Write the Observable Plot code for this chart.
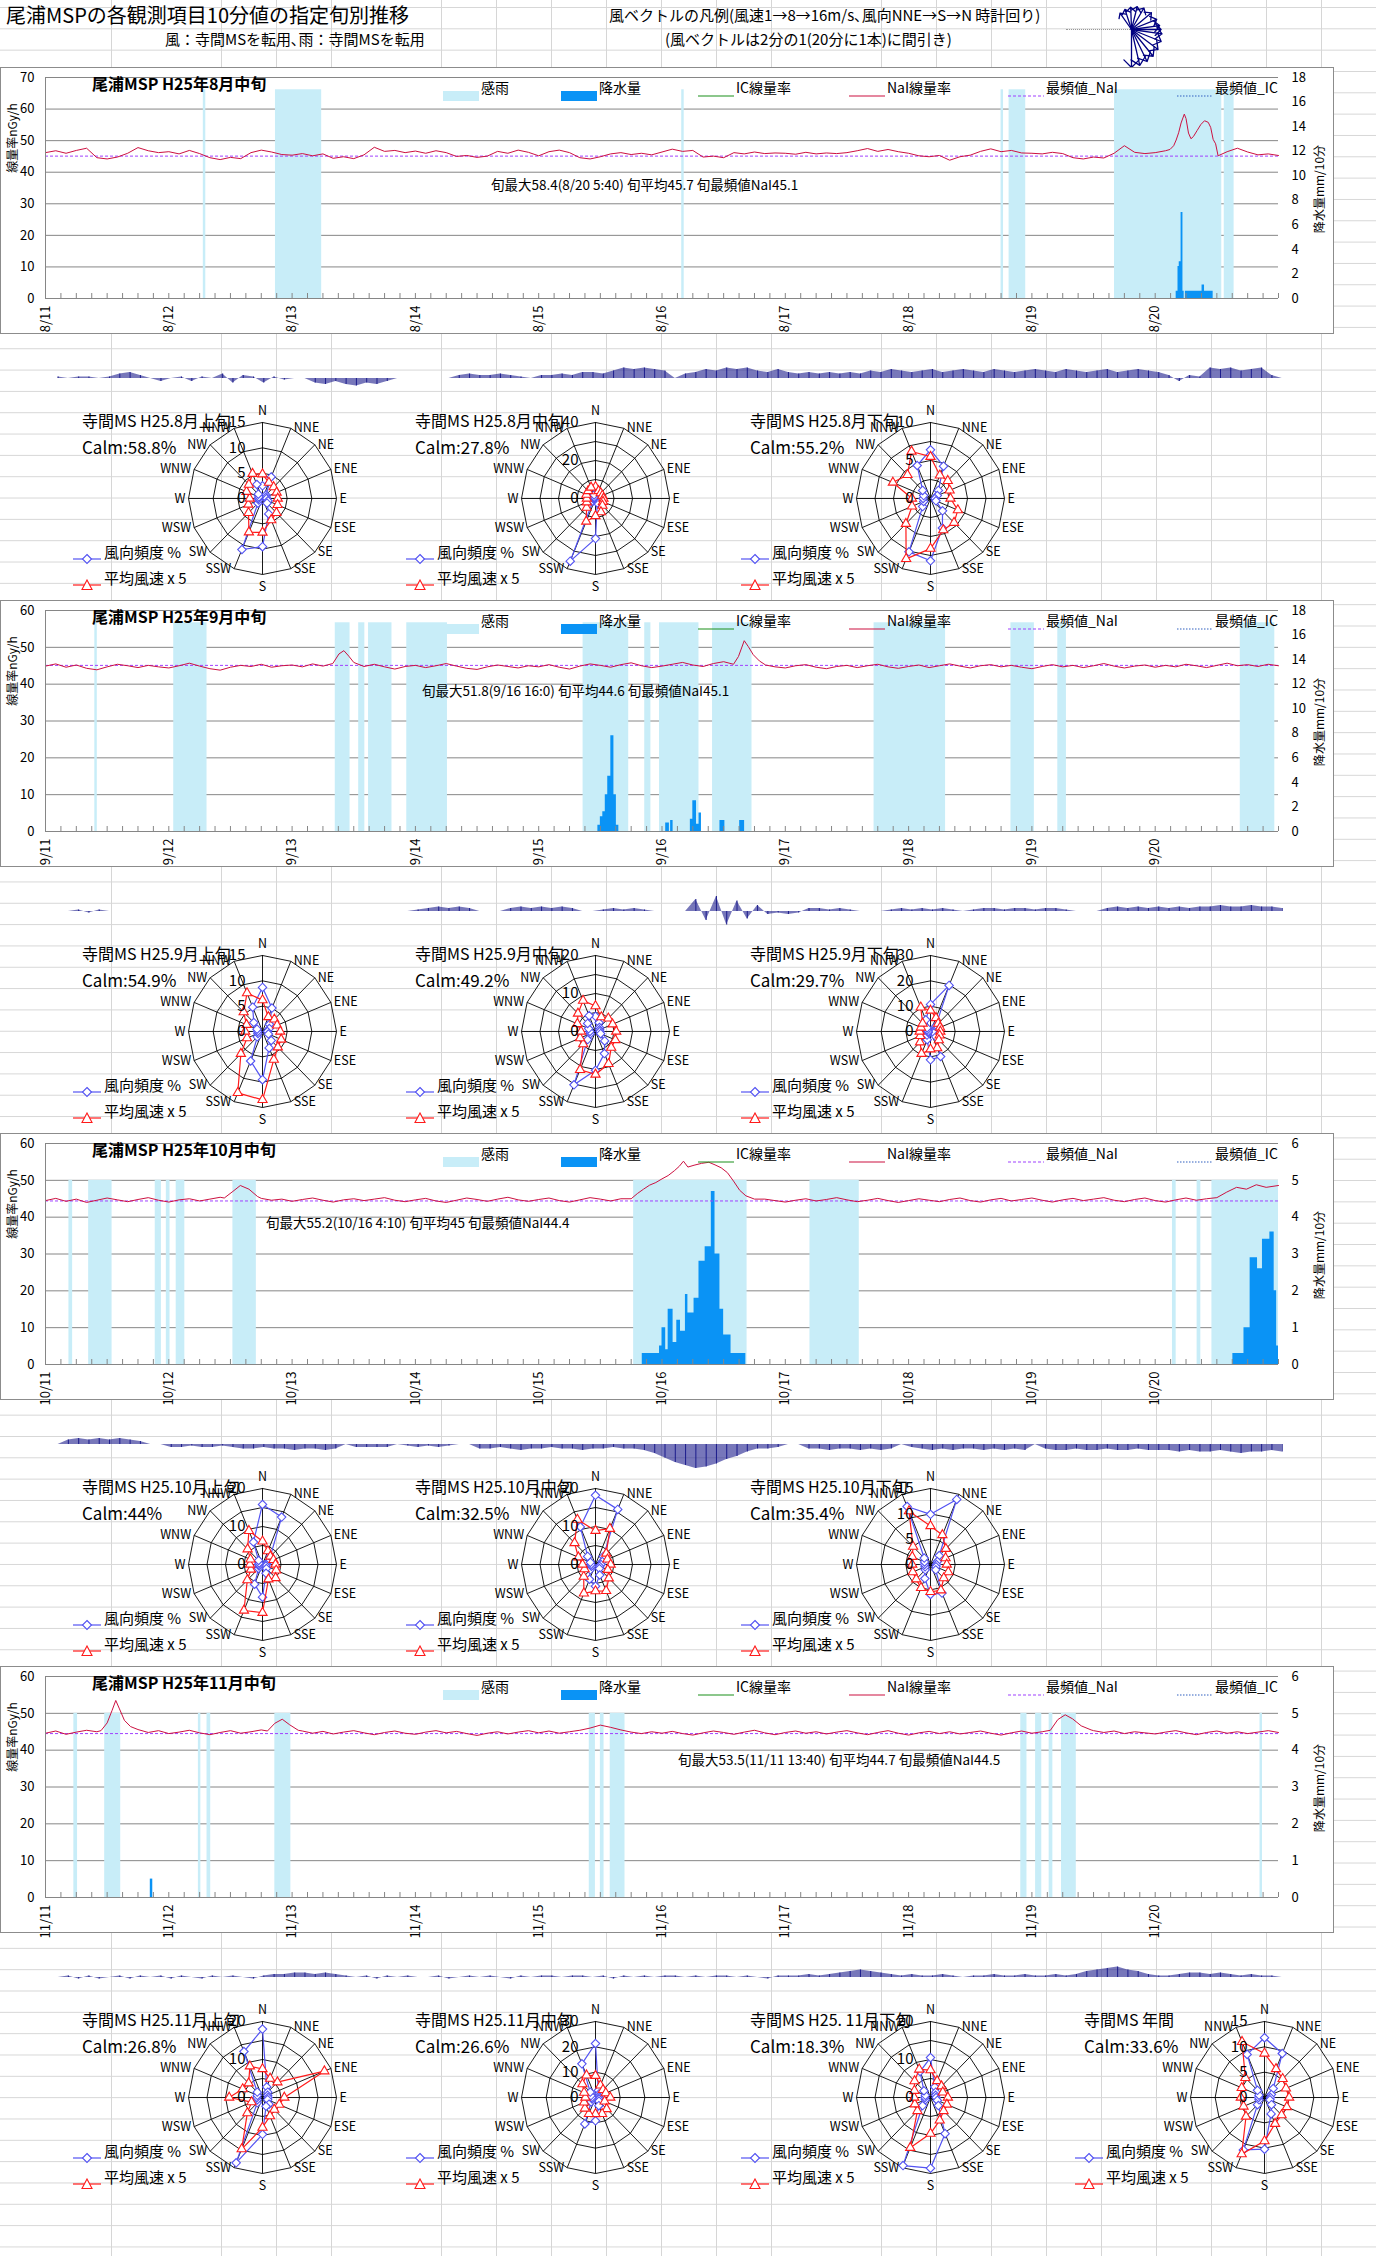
<!DOCTYPE html>
<html><head><meta charset="utf-8">
<script src="https://cdn.jsdelivr.net/npm/d3@7"></script>
<script src="https://cdn.jsdelivr.net/npm/@observablehq/plot@0.6"></script>
<style>
body{margin:0;background:#fff;font-family:"Noto Sans CJK JP","Noto Sans",sans-serif;}
#page{position:relative;width:1376px;height:2256px;overflow:hidden;background-color:#fff;
background-image:linear-gradient(to right,#d6d6d6 1px,transparent 1px),linear-gradient(to bottom,#d6d6d6 1px,transparent 1px);
background-size:55px 21.33px;background-position:1px 7px;}
.abs{position:absolute;white-space:nowrap;color:#000;}
.frame{position:absolute;background:#fff;border:1px solid #8c8c8c;box-sizing:border-box;}
svg.p{position:absolute;overflow:visible;}
</style></head>
<body><div id="page"></div>
<script>
// ================= DATA =================
const pageTitle = "尾浦MSPの各観測項目10分値の指定旬別推移";
const pageSubtitle = "風：寺間MSを転用､雨：寺間MSを転用";
const vectorLegendTitle = "風ベクトルの凡例(風速1→8→16m/s､風向NNE→S→N 時計回り)";
const vectorLegendNote = "(風ベクトルは2分の1(20分に1本)に間引き)";

const periodTitles = ["尾浦MSP  H25年8月中旬","尾浦MSP  H25年9月中旬","尾浦MSP  H25年10月中旬","尾浦MSP  H25年11月中旬"];
const datesAug = ["8/11","8/12","8/13","8/14","8/15","8/16","8/17","8/18","8/19","8/20"];
const datesSep = ["9/11","9/12","9/13","9/14","9/15","9/16","9/17","9/18","9/19","9/20"];
const datesOct = ["10/11","10/12","10/13","10/14","10/15","10/16","10/17","10/18","10/19","10/20"];
const datesNov = ["11/11","11/12","11/13","11/14","11/15","11/16","11/17","11/18","11/19","11/20"];
const doseAxisMax = [70,60,60,60];
const rainAxisMax = [18,18,6,6];
const rainAxisStep = [2,2,1,1];
const rainSensorLevel = [17,17,5,5];
const modeNaI = [45.1,45.1,44.4,44.5];
const periodStats = ["旬最大58.4(8/20 5:40) 旬平均45.7 旬最頻値NaI45.1",
 "旬最大51.8(9/16 16:0) 旬平均44.6 旬最頻値NaI45.1",
 "旬最大55.2(10/16 4:10) 旬平均45 旬最頻値NaI44.4",
 "旬最大53.5(11/11 13:40) 旬平均44.7 旬最頻値NaI44.5"];
const seriesNames = ["感雨","降水量","IC線量率","NaI線量率","最頻値_NaI","最頻値_IC"];
const doseAxisTitle = "線量率nGy/h";
const rainAxisTitle = "降水量mm/10分";

// NaI dose rate, every 2 hours from day start (null = covered by the detailed segments)
const naiAug = [46.2,46.8,46.0,46.9,47.6,44.6,44.2,44.8,46.0,47.8,46.8,46.2,
46.5,45.8,46.9,45.9,44.6,44.0,44.7,44.3,46.2,47.0,46.4,45.6,
45.4,45.9,45.2,45.8,44.4,44.9,44.3,45.5,47.9,46.6,46.9,46.2,
46.7,46.0,46.8,46.2,45.0,45.3,44.7,45.1,46.6,46.0,47.0,46.3,
45.2,46.5,47.0,46.2,44.6,44.2,44.9,45.8,46.2,45.6,46.0,45.5,
46.4,47.3,46.6,46.9,44.8,45.1,44.6,46.2,45.8,46.4,45.9,46.1,
46.0,45.7,46.3,45.8,46.1,45.9,46.2,46.8,47.5,46.6,47.2,46.5,
46.0,45.2,44.9,45.3,43.8,44.9,45.4,46.6,47.4,46.5,46.9,46.1,
46.0,45.8,46.3,45.9,44.6,44.2,44.8,44.5,46.0,48.4,46.3,45.9,
46.2,46.8,null,null,null,null,null,46.5,47.6,46.4,45.5,45.8,45.3];
const naiAugDetail = [[[9.12,47.2],[9.15,48.4],[9.17,50.2],[9.19,52.5],[9.21,55.6],[9.236,58.4],[9.25,57.0],[9.27,52.4],[9.29,50.6],[9.31,51.3],[9.34,53.2],[9.37,55.1],[9.4,56.3],[9.43,55.8],[9.45,54.2],[9.47,50.4],[9.49,49.0],[9.51,45.2]]];
const naiSep = [44.9,45.5,44.6,45.2,44.3,43.9,44.7,45.4,45.0,44.5,45.1,44.7,
44.4,45.0,45.7,44.9,44.2,43.8,44.6,45.1,44.8,45.4,44.6,45.0,
45.2,44.7,45.5,44.9,null,null,null,44.8,45.4,44.7,44.1,44.8,
45.1,44.5,45.0,45.6,44.9,44.3,44.0,44.7,45.2,44.8,44.4,45.0,
44.7,45.3,44.6,44.1,44.9,45.5,45.1,44.6,45.3,45.8,45.0,44.5,
44.9,45.4,45.9,45.2,44.8,45.6,46.1,null,null,null,null,44.7,
44.4,45.0,45.3,44.6,44.2,44.8,45.1,44.5,45.0,45.4,44.7,44.3,
44.8,45.2,44.5,45.0,45.5,44.9,44.4,45.0,45.3,44.7,45.1,44.6,
44.2,44.8,45.3,44.7,45.1,44.5,45.0,45.6,44.9,44.4,44.9,45.2,
44.6,45.1,44.7,45.4,45.0,44.5,45.1,45.7,45.0,45.3,44.8,45.4,45.0];
const naiSepDetail = [[[2.33,45.6],[2.38,48.2],[2.42,49.1],[2.46,47.6],[2.5,45.9]],
 [[5.58,45.4],[5.62,47.5],[5.667,51.8],[5.7,50.2],[5.74,48.0],[5.79,46.3],[5.84,45.2]]];
const naiOct = [44.5,45.1,44.3,44.9,44.0,44.6,45.2,44.7,44.2,44.8,45.3,44.6,
44.1,44.7,45.0,44.4,44.9,45.4,null,null,null,45.1,44.6,44.9,
44.3,44.8,45.2,44.6,44.1,44.7,45.0,44.5,44.9,45.3,44.6,44.2,
44.7,45.1,44.4,44.0,44.6,45.2,44.8,44.3,44.9,45.4,44.7,44.3,
44.8,45.2,44.5,44.1,44.7,45.3,44.9,44.4,45.0,null,null,null,
null,null,null,null,null,null,null,null,null,null,44.9,44.5,
44.1,44.6,45.0,44.4,44.8,45.3,44.7,44.2,44.6,45.1,44.5,44.0,
44.5,45.0,44.6,44.2,44.8,45.2,44.5,44.1,44.7,45.1,44.4,44.8,
45.2,44.6,44.1,44.7,45.1,44.5,44.9,45.3,44.6,44.2,44.8,45.2,
44.5,44.1,44.7,45.2,44.6,45.0,null,null,null,null,null,null,null];
const naiOctDetail = [[[1.45,45.2],[1.52,47.0],[1.58,48.6],[1.65,47.6],[1.72,45.6]],
 [[4.75,45.0],[4.8,46.4],[4.85,47.6],[4.9,48.7],[4.95,49.4],[5.0,50.4],[5.05,51.3],[5.1,52.6],[5.14,53.8],[5.174,55.2],[5.21,53.6],[5.26,54.1],[5.32,54.6],[5.38,54.9],[5.43,54.2],[5.48,53.4],[5.53,52.1],[5.58,49.8],[5.63,47.3],[5.68,45.8],[5.75,44.9]],
 [[9.5,45.3],[9.58,46.8],[9.66,48.1],[9.74,47.6],[9.82,48.8],[9.9,48.1],[10.0,48.6]]];
const naiNov = [44.6,45.2,44.3,44.9,45.4,45.0,null,null,null,null,44.8,45.3,
44.5,44.9,45.4,44.7,44.2,44.8,45.3,44.6,45.0,45.5,null,null,
null,45.2,44.6,45.1,44.4,44.9,45.3,44.7,44.2,44.8,45.2,44.6,
44.3,44.9,45.3,44.7,45.1,44.5,44.0,44.6,45.0,44.4,44.9,45.3,
44.7,45.2,44.6,45.0,45.4,46.0,46.8,46.2,45.5,44.9,44.5,45.0,
44.6,45.1,44.5,44.1,44.7,45.2,44.8,44.3,44.9,45.4,44.7,44.2,
44.8,45.2,44.6,45.0,44.4,44.9,45.3,44.7,44.2,44.8,45.3,44.6,
44.1,44.7,45.1,44.5,45.0,44.4,44.8,45.2,44.6,44.1,44.7,45.2,
44.6,45.0,null,null,null,null,45.3,44.8,45.2,44.5,45.0,44.7,
44.4,44.9,45.3,44.7,44.2,44.8,45.2,44.6,45.0,44.5,44.9,45.3,44.8];
const naiNovDetail = [[[0.45,45.3],[0.5,47.4],[0.54,50.8],[0.57,53.5],[0.6,51.2],[0.64,48.1],[0.69,46.4],[0.75,45.6]],
 [[1.8,45.2],[1.86,47.3],[1.92,48.4],[1.98,46.9],[2.05,45.4]],
 [[8.15,45.4],[8.21,48.3],[8.27,49.6],[8.33,48.5],[8.4,46.6],[8.48,45.5]]];

// rainfall mm/10min, step points [day, mm]
const rainAug = [[9.17,0.6],[9.185,2.6],[9.195,3.0],[9.21,7.0],[9.225,0.6],[9.235,0],[9.245,0.6],[9.38,1.1],[9.40,0.6],[9.47,0]];
const rainSep = [[4.48,0.5],[4.50,1.2],[4.52,1.6],[4.54,3.0],[4.56,4.5],[4.585,7.8],[4.61,3.0],[4.63,0.5],[4.65,0],[5.03,0.7],[5.06,0],[5.07,0.9],[5.09,0],[5.23,1.0],[5.25,2.5],[5.28,0.6],[5.30,1.5],[5.32,0],[5.47,0.9],[5.51,0],[5.63,0.9],[5.67,0]];
const rainOct = [[4.84,0.3],[4.98,0.5],[5.0,1.0],[5.03,0.4],[5.05,1.5],[5.09,0.6],[5.12,1.2],[5.15,0.9],[5.19,1.9],[5.21,1.4],[5.26,1.8],[5.30,2.8],[5.35,3.2],[5.40,4.7],[5.43,3.0],[5.47,1.5],[5.50,0.8],[5.56,0.3],[5.68,0],[9.63,0.3],[9.72,1.0],[9.77,2.9],[9.83,2.6],[9.87,3.4],[9.93,3.6],[9.965,2.0],[9.985,0.5],[10,0]];
const rainNov = [[0.85,0.5],[0.87,0]];

// rain sensor (感雨) on intervals [startDay, endDay]
const senseAug = [[1.28,1.30],[1.865,2.24],[5.16,5.18],[7.75,7.77],[7.815,7.95],[8.67,9.54],[9.56,9.64]];
const senseSep = [[0.40,0.42],[1.04,1.31],[2.35,2.47],[2.54,2.59],[2.62,2.81],[2.93,3.26],[4.36,4.73],[4.86,4.91],[4.98,5.30],[5.41,5.73],[6.72,7.30],[7.83,8.02],[8.21,8.28],[9.69,9.97]];
const senseOct = [[0.19,0.22],[0.35,0.54],[0.89,0.94],[0.98,1.01],[1.06,1.13],[1.52,1.71],[4.77,5.69],[6.2,6.6],[9.14,9.17],[9.34,9.37],[9.46,10.0]];
const senseNov = [[0.23,0.26],[0.48,0.61],[1.24,1.26],[1.31,1.34],[1.86,1.99],[4.41,4.46],[4.50,4.53],[4.58,4.70],[7.91,7.96],[8.03,8.08],[8.14,8.17],[8.24,8.36],[9.85,9.87]];

// wind vector north-south component (m/s, + = pointing up), every 2 hours
const windAug = [1,0,1,1,0,1,3,4,2,0,-2,0, 1,-2,1,0,3,-3,2,1,-3,1,-1,0, 0,-3,-4,-2,-4,-5,-3,-4,-2,0,0,0,
 0,0,0,2,3,2,2,3,2,1,0,2, 2,3,2,4,4,3,5,7,6,7,6,5, 0,3,4,6,5,7,6,7,5,4,6,4,
 3,4,3,4,3,4,3,5,4,6,5,4, 5,6,4,5,6,5,4,6,5,4,5,6, 5,4,6,5,4,5,6,4,5,6,5,4, 2,-2,2,1,7,6,7,5,6,7,2,0];
const windSep = [0,0,1,-1,1,0,0,0,0,0,0,0, 0,0,0,0,0,0,0,0,0,0,0,0, 0,0,0,0,0,0,0,0,0,0,0,1,
 2,3,2,3,2,0,0,0,2,3,2,3, 2,3,2,0,0,1,2,1,2,1,0,0, 0,0,8,-6,10,-9,7,-5,4,-2,-1,-2,
 -1,2,2,1,2,1,0,0,0,1,2,1, 2,1,2,1,0,1,2,2,1,2,2,1, 2,2,1,0,0,0,2,3,2,3,2,3, 2,3,2,3,3,4,3,3,4,3,3,2];
const windOct = [0,3,4,3,4,3,4,3,2,0,0,-2, -2,-1,-2,-2,-1,-2,-3,-3,-2,-3,-3,-4, -3,-3,-4,-3,0,-2,-2,-2,-2,0,-1,-2,
 -1,-2,-1,0,0,-3,-3,-2,-3,-4,-3,-3, -2,-3,-3,-4,-3,-3,-2,-3,-3,-4,-6,-9, -12,-14,-16,-15,-13,-10,-8,-5,-3,-3,-2,0,
 0,-3,-3,-4,-3,-3,-4,-3,-4,-3,0,-2, -3,-4,-3,-4,-3,-3,-4,-3,-4,-3,-4,0, -3,-4,-4,-3,-4,-4,-3,-4,-4,-3,-4,-4, -4,-5,-4,-5,-5,-4,-5,-6,-5,-5,-4,-5];
const windNov = [0,1,-1,1,-1,0,1,-1,1,0,1,-1, 1,0,-1,1,0,1,0,-1,1,2,2,3, 3,2,3,2,1,0,1,-1,1,0,1,0,
 0,1,-1,0,1,0,1,0,-1,1,0,1, 1,0,1,1,0,1,-1,1,0,1,0,1, 1,0,1,0,1,1,0,1,0,-1,1,1,
 1,2,1,2,3,4,5,4,3,2,1,2, 1,1,2,1,0,1,1,2,1,1,2,1, 1,2,1,2,4,5,6,7,5,4,2,1, 1,2,3,3,2,3,2,1,2,1,1,0];

// wind-vector legend: 16 sample arrows
const legendArrowAngle = [-35,-18,-2,14,30,50,68,82,90,98,112,127,141,154,167,180];
const legendArrowSpeed = [1,2,3,4,5,6,7,8,9,10,11,12,13,14,15,16];

// wind roses
const directions = ["N","NNE","NE","ENE","E","ESE","SE","SSE","S","SSW","SW","WSW","W","WNW","NW","NNW"];
const roseNames = ["寺間MS H25.8月上旬","寺間MS H25.8月中旬","寺間MS H25.8月下旬",
 "寺間MS H25.9月上旬","寺間MS H25.9月中旬","寺間MS H25.9月下旬",
 "寺間MS H25.10月上旬","寺間MS H25.10月中旬","寺間MS H25.10月下旬",
 "寺間MS H25.11月上旬","寺間MS H25.11月中旬","寺間MS H25. 11月下旬","寺間MS 年間"];
const roseCalm = [58.8,27.8,55.2,54.9,49.2,29.7,44,32.5,35.4,26.8,26.6,18.3,33.6];
const roseMax = [15,40,10,15,20,30,20,20,15,20,30,20,15];
const roseRingStep = [5,10,2.5,5,5,10,5,5,5,5,10,5,5];
const roseLabelStep = [5,20,5,5,10,10,10,10,5,10,10,10,5];
const roseFreq = [
 [2.5,4.6,1.0,0.8,0.8,1.2,1.3,3.3,9.5,10.9,1.3,0.8,0.8,0.8,1.2,3.0],
 [2,1.5,1.5,1.2,1.2,1.3,2,2.5,21.1,35.7,2,1,0.8,0.8,1,2],
 [6.4,4.6,1.5,1,0.6,0.8,2.3,4.2,8.2,7.6,1.5,1,1,1,1.5,4.7],
 [8.7,5.0,2,1.5,1,1.3,2.5,3.5,9.5,6.3,1.5,1,1,1.2,2.5,5.2],
 [4,2.5,1.5,1.2,1.2,1.5,3.5,6.3,10.2,15.2,3,1.5,1.5,2,3,4.5],
 [10.7,19.7,3,2,1.5,1.5,3,10.7,11.2,3.5,2,1,1,1.5,2,5],
 [15.8,13.5,3,1.5,1,1,1.5,2.5,8.6,5.6,1.5,1,1,1,1.5,6.4],
 [18.2,15.7,3,2,1.5,1.2,1.5,3,5.7,4.2,2,1.2,1.2,1.5,3,10.7],
 [9.9,13.9,2.5,1.5,1.2,1.2,1.5,6.1,5.9,3,1.5,1.2,1.2,1.3,1.8,12.4],
 [18,3,2,1.5,1.5,1.5,2.5,2.5,9.7,18.6,2,1.5,1.5,1.5,2,13.1],
 [21.3,3,2,1.5,1.5,1.5,2,3.5,9.2,11.3,2.5,1.5,1.5,2,3,14.4],
 [10.5,3,2,1.5,1.5,2,3,10.3,18.6,19.4,3,1.5,1.5,1.5,2.5,7.4],
 [11.8,9.4,2.5,1.5,1.2,1.2,2,3.5,10.2,11.2,2,1.2,1.2,1.2,2,9.2]];
const roseSpeedX5 = [
 [4.8,3.4,3.2,3.1,3.1,3.3,4.0,4.6,6.7,7.2,4.0,3.1,2.6,3.5,3.9,5.3],
 [6.1,4.3,4,4,4.3,4.4,5.3,7.7,9.2,13.1,6.8,5.1,4.7,5.3,5.6,6.3],
 [5.5,3.3,3.3,2.8,2.7,4.0,4.5,4.5,6.6,8.6,4.7,2.7,2.5,5.5,4.4,6.7],
 [6.2,3.1,3.4,3.2,3.6,4.1,4.4,6.0,13.5,13.1,6.2,3.4,3.5,3.5,5.4,8.2],
 [6.7,4.1,4.9,5.0,5.6,5.8,6.0,9.2,11.3,10.9,4.7,4.5,3.9,5.3,6.7,8.8],
 [8.3,5.8,4.4,4.2,4.0,4.0,4.8,7.1,7.0,9.5,6.0,4.5,4.4,4.2,4.5,10.3],
 [6.1,3.8,3.0,3.2,3.5,4.0,5.0,4.2,12.7,13.1,5.8,3.4,3.4,3.5,5.7,9.6],
 [8.9,10.2,4.1,3.5,4.1,3.6,5.1,7.5,7.0,8.2,4.5,3.2,3.5,5.0,8.0,12.8],
 [7.6,6.3,4.4,3.3,3.3,3.9,3.8,5.5,5.4,5.0,4.1,3.9,3.7,4.0,5.0,11.4],
 [7.5,5.4,5.7,18.1,5.9,4.9,4.5,5.3,7.9,14.7,5.8,3.2,9.0,5.8,5.3,8.9],
 [8.6,5.2,4.3,4.5,6.0,4.0,6.4,7.0,6.5,7.0,6.1,5.0,4.1,5.0,7.5,9.5],
 [7.2,4.7,4.2,3.6,4.7,4.8,5.0,6.5,9.5,14.3,5.0,4.6,4.4,4.7,6.1,8.0],
 [8.7,6.1,5.2,4.7,5.0,4.9,4.9,5.6,8.6,12.1,5.3,4.6,4.8,5.0,5.5,11.9]];
const roseLegend = ["風向頻度 %","平均風速 x 5"];

// ================= RENDER =================
const FONT = '"Noto Sans CJK JP","Noto Sans",sans-serif';
const page = document.getElementById("page");
const C = {sense:"#c8edf8", rain:"#0a93f5", nai:"#cc1141", ic:"#1a8f1a", mode:"#a040ff", modeIC:"#3060c0",
  grid:"#868686", wind:"#1c1c8c", freq:"#5252f2", speed:"#ff1a1a"};

function addText(str, x, y, size, opts = {}) {
  const el = document.createElement("div");
  el.className = "abs";
  el.textContent = str;
  el.style.fontSize = size + "px";
  el.style.lineHeight = (size * 1.3) + "px";
  el.style.left = x + "px";
  el.style.top = (y - size * 0.65) + "px";
  if (opts.bold) el.style.fontWeight = "bold";
  if (opts.rotate) {
    el.style.left = x + "px"; el.style.top = y + "px";
    el.style.transform = "translate(-50%,-50%) rotate(" + opts.rotate + "deg)";
  }
  page.appendChild(el);
  return el;
}
function addHTML(html, x, y) {
  const el = document.createElement("div");
  el.className = "abs";
  el.style.left = x + "px"; el.style.top = y + "px";
  el.innerHTML = html;
  page.appendChild(el);
}
function place(svg, x, y) {
  svg.classList.add("p");
  svg.style.left = x + "px"; svg.style.top = y + "px";
  page.appendChild(svg);
}
const baseStyle = {background:"transparent", fontFamily: FONT, fontSize:"13px", color:"#000", overflow:"visible"};

// ---- header ----
addText(pageTitle, 6, 15, 20);
addText(pageSubtitle, 165, 39, 15);
addText(vectorLegendTitle, 609, 15, 15);
addText(vectorLegendNote, 665, 39, 15);
addHTML('<div style="width:64px;border-top:1px dotted #999"></div>', 1066, 29);
place(Plot.plot({
  width: 100, height: 80, margin: 0,
  x: {domain:[0,1], range:[50,51], axis:null},
  y: {domain:[0,1], range:[29,28], axis:null},
  length: {domain:[1,16], range:[20,38]},
  style: baseStyle,
  marks: [Plot.vector(d3.range(16), {x: 0, y: 0, rotate: i => legendArrowAngle[i], length: i => legendArrowSpeed[i],
    anchor: "start", stroke: "#000080", strokeWidth: 1.3})]
}), 1081, 0);

// ---- time-series charts ----
const naiBase = [naiAug, naiSep, naiOct, naiNov];
const naiDetail = [naiAugDetail, naiSepDetail, naiOctDetail, naiNovDetail];
const rains = [rainAug, rainSep, rainOct, rainNov];
const senses = [senseAug, senseSep, senseOct, senseNov];
const winds = [windAug, windSep, windOct, windNov];
const dates = [datesAug, datesSep, datesOct, datesNov];
const statPos = [[491,118],[422,91],[266,90],[678,94]];

function naiSeries(base, detail) {
  const ranges = detail.map(s => [s[0][0], s[s.length-1][0]]);
  const pts = [];
  base.forEach((v, i) => {
    const d = i / 12;
    if (v == null) return;
    if (ranges.some(([a, b]) => d >= a - 1e-6 && d <= b + 1e-6)) return;
    pts.push([d, v]);
  });
  detail.forEach(s => s.forEach(p => pts.push(p)));
  return pts.sort((a, b) => a[0] - b[0]);
}

function swatch(kind, color) {
  if (kind === "rect") return `<svg width="36" height="10"><rect x="0" y="0" width="36" height="10" fill="${color}"/></svg>`;
  const dash = kind === "dash" ? ' stroke-dasharray="3,2"' : kind === "dot" ? ' stroke-dasharray="1.5,1.5"' : "";
  return `<svg width="36" height="10"><line x1="0" x2="36" y1="5" y2="5" stroke="${color}" stroke-width="1.2"${dash}/></svg>`;
}

for (let k = 0; k < 4; k++) {
  const top = 67 + 533 * k;
  const fr = document.createElement("div");
  fr.className = "frame";
  Object.assign(fr.style, {left: "0px", top: top + "px", width: "1334px", height: "267px"});
  page.appendChild(fr);
  const yMax = doseAxisMax[k], rMax = rainAxisMax[k], kf = yMax / rMax;
  const leftTicks = d3.range(0, yMax + 1e-9, 10);
  const rightTicks = d3.range(0, rMax + 1e-9, rainAxisStep[k]);
  const minor = d3.range(0, 10.001, 0.125);
  const labels = dates[k];
  const svg = Plot.plot({
    width: 1333, height: 266, marginLeft: 45, marginRight: 55, marginTop: 10, marginBottom: 35,
    x: {domain: [0, 10]}, y: {domain: [0, yMax]},
    style: baseStyle,
    marks: [
      Plot.gridY({ticks: leftTicks, stroke: C.grid, strokeOpacity: 1}),
      Plot.rect(senses[k], {x1: d => d[0], x2: d => d[1], y1: 0, y2: rainSensorLevel[k] * kf, fill: C.sense}),
      Plot.areaY(rains[k], {x: d => d[0], y1: 0, y2: d => d[1] * kf, curve: "step-after", fill: C.rain}),
      Plot.ruleY([modeNaI[k]], {stroke: C.mode, strokeDasharray: "3,2", strokeWidth: 1}),
      Plot.line(naiSeries(naiBase[k], naiDetail[k]), {x: d => d[0], y: d => d[1], stroke: C.nai, strokeWidth: 1}),
      Plot.ruleX([0], {stroke: C.grid}),
      Plot.ruleY([0], {stroke: C.grid}),
      Plot.ruleX(minor, {x: d => d, y1: 0, y2: yMax * 5 / 221, stroke: C.grid}),
      Plot.axisY({ticks: leftTicks, tickSize: 0, tickPadding: 11, label: null, fontSize: 13}),
      Plot.axisY({anchor: "right", ticks: rightTicks.map(v => v * kf), tickFormat: d => String(Math.round(d / kf)),
        tickSize: 0, tickPadding: 13, label: null, fontSize: 13}),
      Plot.axisX({ticks: d3.range(10), tickFormat: i => labels[i], tickRotate: -90, tickSize: 0, tickPadding: 7,
        label: null, fontSize: 13})
    ]
  });
  place(svg, 0, top);
  addText(periodTitles[k], 92, top + 16, 16, {bold: true});
  addText(doseAxisTitle, 12, top + 71, 12, {rotate: -90});
  addText(rainAxisTitle, 1319, top + 122, 12, {rotate: -90});
  addText(periodStats[k], statPos[k][0], top + statPos[k][1], 13.5);
  const legendItems = [["rect", C.sense, 443], ["rect", C.rain, 561], ["line", C.ic, 698],
                       ["line", C.nai, 849], ["dash", C.mode, 1008], ["dot", C.modeIC, 1177]];
  legendItems.forEach(([kind, color, x], j) => {
    addHTML(swatch(kind, color), x, top + 15);
    addText(seriesNames[j], x + 38, top + 20, 14);
  });
  // wind vector strip
  const base = 377.7 + 533 * k;
  place(Plot.plot({
    width: 1376, height: 60, margin: 0,
    x: {domain: [0, 10], range: [57.6, 1292], axis: null},
    y: {domain: [-20, 20], range: [60, 0], axis: null},
    style: baseStyle,
    marks: [
      Plot.areaY(winds[k], {x: (d, i) => i / 12, y1: 0, y2: d => d, fill: C.wind, fillOpacity: 0.6}),
      Plot.ruleX(winds[k], {x: (d, i) => i / 12, y1: 0, y2: d => d, stroke: C.wind, strokeWidth: 1})
    ]
  }), 0, base - 30);
}

// ---- wind roses ----
function drawRose(idx, cx, cy) {
  const max = roseMax[idx];
  const rings = d3.range(roseRingStep[idx], max + 1e-9, roseRingStep[idx]);
  const ringLabels = d3.range(0, max + 1e-9, roseLabelStep[idx]);
  const ang = i => i * Math.PI / 8;
  const pt = (v, i) => ({x: v * Math.sin(ang(i)), y: v * Math.cos(ang(i))});
  const ringPts = rings.flatMap(r => d3.range(17).map(i => ({...pt(r, i % 16), r})));
  const freqPts = roseFreq[idx].map((v, i) => pt(v, i));
  const speedPts = roseSpeedX5[idx].map((v, i) => pt(v, i));
  const dirs = directions.map((d, i) => ({d, ...pt(max, i), i}));
  const svg = Plot.plot({
    width: 330, height: 200, margin: 0,
    x: {domain: [-max, max], range: [165 - 74, 165 + 74], axis: null},
    y: {domain: [-max, max], range: [100 + 76, 100 - 76], axis: null},
    style: baseStyle,
    marks: [
      Plot.line(ringPts, {x: "x", y: "y", z: "r", stroke: "#000", strokeWidth: 0.9}),
      Plot.link(dirs, {x1: 0, y1: 0, x2: "x", y2: "y", stroke: "#000", strokeWidth: 0.9}),
      Plot.line([...freqPts, freqPts[0]], {x: "x", y: "y", stroke: C.freq, strokeWidth: 1.2}),
      Plot.dot(freqPts, {x: "x", y: "y", symbol: "diamond2", r: 3.8, stroke: C.freq, fill: "white", strokeWidth: 1.1}),
      Plot.line([...speedPts, speedPts[0]], {x: "x", y: "y", stroke: C.speed, strokeWidth: 1.2}),
      Plot.dot(speedPts, {x: "x", y: "y", symbol: "triangle2", r: 4.4, stroke: C.speed, fill: "white", strokeWidth: 1.1}),
      Plot.text(dirs.filter(d => d.i > 0 && d.i < 8), {x: "x", y: "y", text: "d", textAnchor: "start", dx: 3, fontSize: 12.5}),
      Plot.text(dirs.filter(d => d.i > 8), {x: "x", y: "y", text: "d", textAnchor: "end", dx: -3, fontSize: 12.5}),
      Plot.text(dirs.filter(d => d.i === 0), {x: "x", y: "y", text: "d", dy: -12, fontSize: 12.5}),
      Plot.text(dirs.filter(d => d.i === 8), {x: "x", y: "y", text: "d", dy: 12, fontSize: 12.5}),
      Plot.text(ringLabels, {x: 0, y: d => d, text: d => String(d), textAnchor: "end", dx: -17, fontSize: 15})
    ]
  });
  place(svg, cx - 165, cy - 100);
  addText(roseNames[idx], cx - 180, cy - 78, 16);
  addText("Calm:" + roseCalm[idx] + "%", cx - 180, cy - 51, 17);
  addHTML(`<svg width="28" height="12"><line x1="0" x2="28" y1="6" y2="6" stroke="${C.freq}" stroke-width="1.2"/><path d="M14,1.5L18.5,6L14,10.5L9.5,6Z" fill="white" stroke="${C.freq}" stroke-width="1.1"/></svg>`, cx - 189, cy + 48);
  addText(roseLegend[0], cx - 158, cy + 54, 15);
  addHTML(`<svg width="28" height="12"><line x1="0" x2="28" y1="6" y2="6" stroke="${C.speed}" stroke-width="1.2"/><path d="M14,1L19,10.5L9,10.5Z" fill="white" stroke="${C.speed}" stroke-width="1.1"/></svg>`, cx - 189, cy + 74);
  addText(roseLegend[1], cx - 158, cy + 80, 15);
}
const roseCX = [262, 595, 930, 1264];
for (let idx = 0; idx < 13; idx++) {
  const row = Math.min(Math.floor(idx / 3), 3);
  const col = idx === 12 ? 3 : idx % 3;
  drawRose(idx, roseCX[col], 498 + 533 * row);
}
</script></body></html>
